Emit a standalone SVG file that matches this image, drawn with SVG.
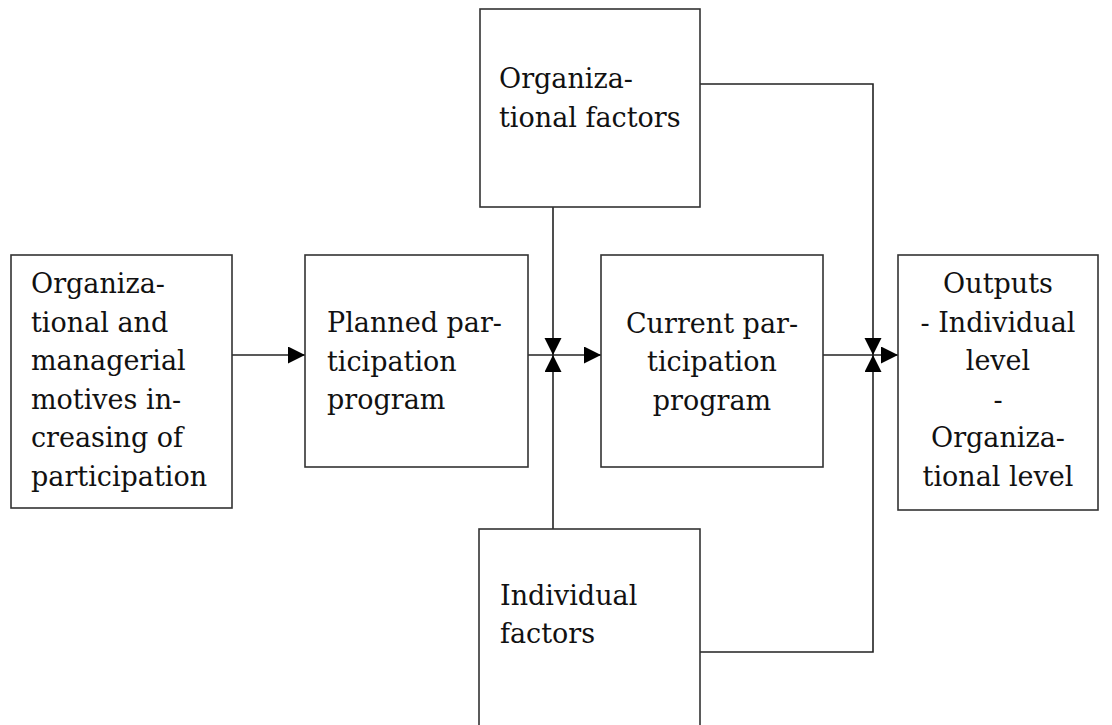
<svg xmlns="http://www.w3.org/2000/svg" width="1112" height="725" viewBox="0 0 1112 725">
  <style>
    .box { fill: #ffffff; stroke: #333333; stroke-width: 1.6; }
    .lbl { font-family: "DejaVu Serif", "Liberation Serif", serif; font-size: 27px; fill: #111111; }
    .mid { text-anchor: middle; }
    .conn { fill: none; stroke: #222222; stroke-width: 1.6; }
  </style>
  <defs>
    <marker id="arr" markerUnits="userSpaceOnUse" markerWidth="18" markerHeight="18" refX="17" refY="8.5" orient="auto">
      <path d="M0,0 L17,8.5 L0,17 z" fill="#000000"/>
    </marker>
  </defs>
  <rect width="1112" height="725" fill="#ffffff"/>

  <g id="connectors">
    <line class="conn" x1="232" y1="355" x2="305" y2="355" marker-end="url(#arr)"/>
    <line class="conn" x1="528" y1="355" x2="601" y2="355" marker-end="url(#arr)"/>
    <line class="conn" x1="823" y1="355" x2="898" y2="355" marker-end="url(#arr)"/>
    <line class="conn" x1="553" y1="207" x2="553" y2="355" marker-end="url(#arr)"/>
    <line class="conn" x1="553" y1="529" x2="553" y2="355" marker-end="url(#arr)"/>
    <polyline class="conn" points="700,84 873,84 873,355" marker-end="url(#arr)"/>
    <polyline class="conn" points="700,652 873,652 873,355" marker-end="url(#arr)"/>
  </g>

  <g id="node-motives">
    <rect class="box" x="11" y="255" width="221" height="253"/>
    <text class="lbl" x="31" y="293">Organiza-</text>
    <text class="lbl" x="31" y="332">tional and</text>
    <text class="lbl" x="31" y="370">managerial</text>
    <text class="lbl" x="31" y="409">motives in-</text>
    <text class="lbl" x="31" y="447">creasing of</text>
    <text class="lbl" x="31" y="486">participation</text>
  </g>

  <g id="node-planned">
    <rect class="box" x="305" y="255" width="223" height="212"/>
    <text class="lbl" x="327" y="332">Planned par-</text>
    <text class="lbl" x="327" y="371">ticipation</text>
    <text class="lbl" x="327" y="409">program</text>
  </g>

  <g id="node-current">
    <rect class="box" x="601" y="255" width="222" height="212"/>
    <text class="lbl mid" x="712" y="333">Current par-</text>
    <text class="lbl mid" x="712" y="371">ticipation</text>
    <text class="lbl mid" x="712" y="410">program</text>
  </g>

  <g id="node-outputs">
    <rect class="box" x="898" y="255" width="200" height="255"/>
    <text class="lbl mid" x="998" y="293">Outputs</text>
    <text class="lbl mid" x="998" y="332">- Individual</text>
    <text class="lbl mid" x="998" y="370">level</text>
    <text class="lbl mid" x="998" y="409">-</text>
    <text class="lbl mid" x="998" y="447">Organiza-</text>
    <text class="lbl mid" x="998" y="486">tional level</text>
  </g>

  <g id="node-org-factors">
    <rect class="box" x="480" y="9" width="220" height="198"/>
    <text class="lbl" x="499" y="88">Organiza-</text>
    <text class="lbl" x="499" y="127">tional factors</text>
  </g>

  <g id="node-individual-factors">
    <rect class="box" x="479" y="529" width="221" height="210"/>
    <text class="lbl" x="500" y="605">Individual</text>
    <text class="lbl" x="500" y="643">factors</text>
  </g>
</svg>
